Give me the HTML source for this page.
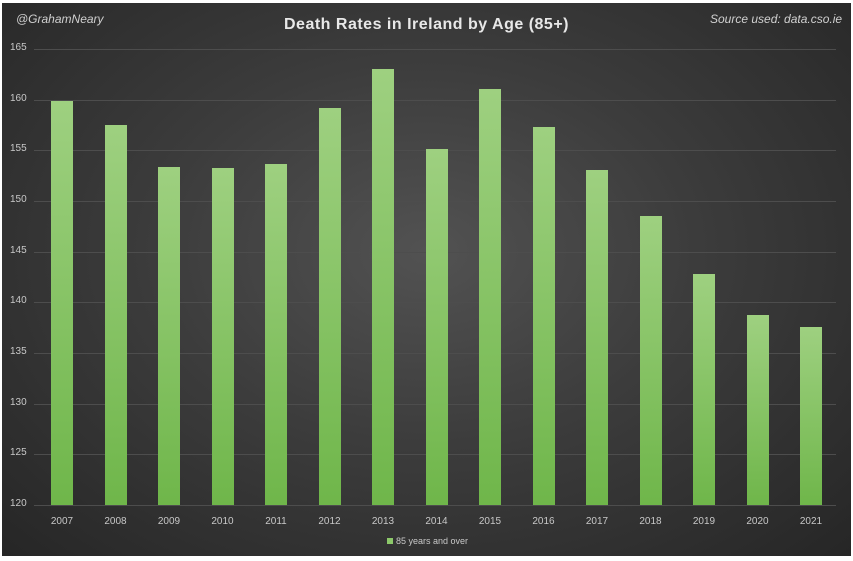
<!DOCTYPE html>
<html><head><style>
body{margin:0;background:#fff;}
#c{position:absolute;left:2px;top:3px;width:849px;height:553px;background:radial-gradient(ellipse at 50% 45%,#525252 0%,#3c3c3c 45%,#262626 100%);overflow:hidden;font-family:"Liberation Sans",sans-serif;}
.t{position:absolute;color:#ddd;}
.g{position:absolute;left:32px;width:802px;height:1px;background:#4d4d4d;}
.yl{position:absolute;left:8px;font-size:10px;color:#c8c8c8;width:22px;}
.b{position:absolute;width:22px;background:linear-gradient(#9ed080,#6fb64a);}
.xl{position:absolute;font-size:10px;color:#c8c8c8;width:40px;text-align:center;top:513px;}
</style></head><body><div id="c">
<div class="t" style="left:14px;top:9px;font-size:12px;font-style:italic;color:#d0d0d0">@GrahamNeary</div>
<div class="t" style="left:0;width:849px;text-align:center;top:13px;font-size:16px;font-weight:bold;color:#e8e8e8;letter-spacing:0.5px">Death Rates in Ireland by Age (85+)</div>
<div class="t" style="left:708px;top:9px;font-size:12px;font-style:italic;color:#d0d0d0">Source used: data.cso.ie</div>
<div id="grid"></div>
<div class="t" style="left:385px;top:533px;font-size:9px;color:#c8c8c8"><span style="display:inline-block;width:6px;height:6px;background:#8cc86a;margin-right:3px"></span>85 years and over</div>
</div>
<script>
var c=document.getElementById('c');
function y(v){return 502-(v-120)*10.13;}
var h='';
for(var v=120;v<=165;v+=5){h+='<div class="g" style="top:'+Math.round(y(v))+'px"></div><div class="yl" style="top:'+(Math.round(y(v))-7)+'px">'+v+'</div>';}
var d=[159.9,157.5,153.4,153.3,153.7,159.2,163,155.1,161.1,157.3,153.1,148.5,142.8,138.8,137.6];
for(var i=0;i<15;i++){var cx=60+i*53.5;var t=y(d[i]);h+='<div class="b" style="left:'+(cx-11)+'px;top:'+t+'px;height:'+(y(120)-t)+'px"></div><div class="xl" style="left:'+(cx-20)+'px">'+(2007+i)+'</div>';}
c.insertAdjacentHTML('beforeend',h);
</script>
</body></html>
